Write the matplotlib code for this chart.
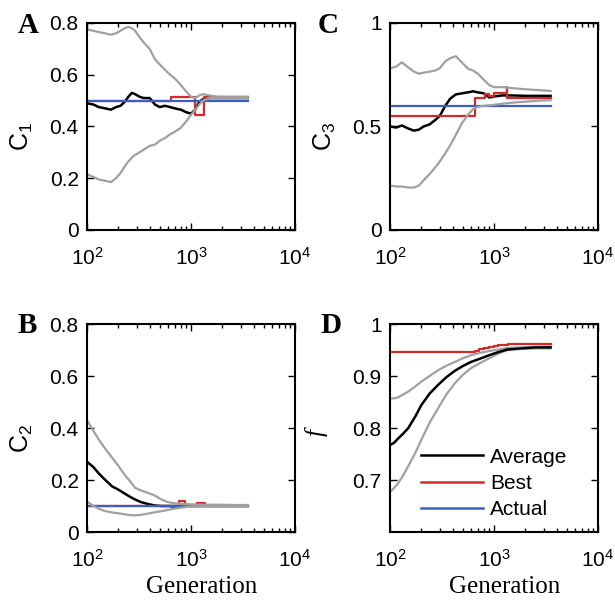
"""Four panels: parameter estimates (C1, C2, C3) and fitness f vs generation."""

import matplotlib
matplotlib.use("Agg")
import matplotlib.pyplot as plt
import numpy as np

plt.rcParams["font.family"] = ["Liberation Sans", "DejaVu Sans"]
plt.rcParams["mathtext.fontset"] = "custom"
plt.rcParams["mathtext.rm"] = "Liberation Sans"
plt.rcParams["mathtext.it"] = "Liberation Sans:italic"

GRAY = "#a0a0a0"
BLACK = "#000000"
RED = "#d02a2a"
BLUE = "#3a5ec4"

# --- panel A: C1 ---
gen_a = [100, 115, 130, 150, 170, 190, 210, 230, 250, 270, 290, 320, 350, 400, 450,
         500, 560, 630, 700, 800, 900, 1000, 1100, 1200, 1300, 1500, 1800, 2200, 2800, 3500]
a_upper = [0.775, 0.77, 0.765, 0.76, 0.755, 0.76, 0.77, 0.78, 0.785, 0.78, 0.77, 0.745, 0.725, 0.70, 0.66,
           0.64, 0.62, 0.60, 0.585, 0.56, 0.535, 0.515, 0.51, 0.52, 0.525, 0.52, 0.515, 0.515, 0.515, 0.515]
a_lower = [0.215, 0.205, 0.195, 0.19, 0.185, 0.20, 0.22, 0.245, 0.265, 0.28, 0.29, 0.30, 0.31, 0.325, 0.33,
           0.345, 0.355, 0.37, 0.38, 0.395, 0.42, 0.445, 0.465, 0.485, 0.50, 0.51, 0.51, 0.51, 0.51, 0.51]
a_avg = [0.49, 0.485, 0.475, 0.47, 0.465, 0.475, 0.48, 0.495, 0.515, 0.53, 0.525, 0.515, 0.51, 0.51, 0.485,
         0.475, 0.48, 0.475, 0.47, 0.465, 0.455, 0.45, 0.465, 0.495, 0.505, 0.51, 0.51, 0.51, 0.51, 0.51]
a_best_gen = [100, 640, 1100, 1330, 3500]
a_best = [0.50, 0.515, 0.445, 0.513, 0.513]
a_actual = 0.50

# --- panel B: C2 ---
gen_b = [100, 115, 130, 150, 175, 200, 230, 260, 290, 330, 390, 450, 520, 600, 700,
         850, 1000, 1300, 1800, 2500, 3500]
b_upper = [0.43, 0.39, 0.355, 0.32, 0.285, 0.255, 0.22, 0.195, 0.17, 0.16, 0.15, 0.14, 0.125, 0.115, 0.11,
           0.108, 0.106, 0.105, 0.105, 0.104, 0.104]
b_lower = [0.117, 0.10, 0.09, 0.08, 0.075, 0.072, 0.068, 0.065, 0.064, 0.066, 0.071, 0.076, 0.08, 0.085, 0.09,
           0.095, 0.098, 0.10, 0.10, 0.10, 0.10]
b_avg = [0.27, 0.25, 0.225, 0.20, 0.175, 0.163, 0.148, 0.135, 0.125, 0.115, 0.107, 0.102, 0.10, 0.10, 0.10,
         0.10, 0.10, 0.10, 0.10, 0.10, 0.10]
b_best_gen = [100, 640, 760, 880, 1150, 1350, 3500]
b_best = [0.10, 0.095, 0.12, 0.105, 0.11, 0.10, 0.10]
b_actual = 0.10

# --- panel C: C3 ---
gen_c = [100, 115, 130, 150, 170, 190, 210, 240, 270, 300, 340, 380, 430, 490, 560,
         630, 700, 800, 900, 1000, 1200, 1500, 2000, 2800, 3500]
c_upper = [0.78, 0.79, 0.81, 0.785, 0.765, 0.755, 0.76, 0.765, 0.77, 0.78, 0.815, 0.83, 0.84, 0.81, 0.78,
           0.77, 0.755, 0.725, 0.70, 0.69, 0.69, 0.685, 0.68, 0.675, 0.672]
c_lower = [0.215, 0.21, 0.21, 0.205, 0.205, 0.215, 0.24, 0.27, 0.30, 0.33, 0.37, 0.41, 0.46, 0.515, 0.555,
           0.585, 0.595, 0.60, 0.602, 0.605, 0.61, 0.615, 0.62, 0.625, 0.627]
c_avg = [0.50, 0.495, 0.505, 0.49, 0.48, 0.485, 0.50, 0.51, 0.53, 0.55, 0.60, 0.635, 0.655, 0.66, 0.665,
         0.67, 0.665, 0.66, 0.64, 0.645, 0.65, 0.65, 0.648, 0.648, 0.648]
c_best_gen = [100, 660, 820, 900, 1000, 1320, 1345, 3500]
c_best = [0.551, 0.64, 0.657, 0.645, 0.66, 0.69, 0.64, 0.64]
c_actual = 0.60

# --- panel D: fitness f ---
gen_d = [100, 110, 120, 135, 150, 175, 200, 240, 290, 350, 420, 500, 600, 750, 900,
         1100, 1350, 1800, 2500, 3500]
d_upper = [0.857, 0.857, 0.859, 0.865, 0.87, 0.88, 0.889, 0.90, 0.911, 0.92, 0.927, 0.934, 0.94, 0.945, 0.948,
           0.951, 0.954, 0.955, 0.956, 0.957]
d_lower = [0.677, 0.685, 0.694, 0.71, 0.727, 0.752, 0.777, 0.81, 0.838, 0.865, 0.886, 0.902, 0.915, 0.926, 0.934,
           0.943, 0.95, 0.952, 0.953, 0.953]
d_avg = [0.767, 0.772, 0.78, 0.79, 0.80, 0.822, 0.844, 0.866, 0.883, 0.898, 0.91, 0.919, 0.927, 0.934, 0.94,
         0.946, 0.951, 0.953, 0.955, 0.955]
d_best_gen = [100, 650, 720, 800, 900, 1000, 1100, 1350, 3500]
d_best = [0.946, 0.949, 0.952, 0.954, 0.956, 0.958, 0.959, 0.962, 0.962]

W, H = 615, 602
fig = plt.figure(figsize=(W / 100, H / 100), dpi=100)


def px_axes(left, top, right, bottom):
    return fig.add_axes([left / W, 1 - bottom / H, (right - left) / W, (bottom - top) / H])


def style(ax, ylim, yticks, yticklabels):
    ax.set_xscale("log")
    ax.set_xlim(100, 1e4)
    ax.set_ylim(*ylim)
    ax.set_yticks(yticks)
    ax.set_yticklabels(yticklabels)
    ax.set_xticks([1e2, 1e3, 1e4])
    ax.tick_params(which="both", direction="in", top=True, right=True, labelsize=15)
    ax.tick_params(which="major", length=5, width=1.0)
    ax.tick_params(which="minor", length=3, width=1.0)
    ax.tick_params(axis="x", pad=12)
    ax.tick_params(axis="y", pad=6)
    for s in ax.spines.values():
        s.set_linewidth(1.5)


def draw(ax, gen, upper, lower, avg, best_gen, best, actual=None):
    ax.plot(gen, avg, color=BLACK, lw=1.8)
    ax.plot(best_gen, best, color=RED, lw=1.6, drawstyle="steps-post")
    if actual is not None:
        ax.plot([gen[0], gen[-1]], [actual, actual], color=BLUE, lw=1.6)
    ax.plot(gen, upper, color=GRAY, lw=1.6)
    ax.plot(gen, lower, color=GRAY, lw=1.6)


def c_label(ax, text):
    ax.set_ylabel(text, fontsize=18)
    ax.yaxis.set_label_coords(-0.25, 0.45)


ax_a = px_axes(87, 23, 295, 230)
draw(ax_a, gen_a, a_upper, a_lower, a_avg, a_best_gen, a_best, a_actual)
style(ax_a, (0, 0.8), [0, 0.2, 0.4, 0.6, 0.8], ["0", "0.2", "0.4", "0.6", "0.8"])
c_label(ax_a, r"$\mathregular{C_1}$")

ax_c = px_axes(390, 23, 598, 230)
draw(ax_c, gen_c, c_upper, c_lower, c_avg, c_best_gen, c_best, c_actual)
style(ax_c, (0, 1), [0, 0.5, 1], ["0", "0.5", "1"])
c_label(ax_c, r"$\mathregular{C_3}$")

ax_b = px_axes(87, 324, 295, 532)
draw(ax_b, gen_b, b_upper, b_lower, b_avg, b_best_gen, b_best, b_actual)
style(ax_b, (0, 0.8), [0, 0.2, 0.4, 0.6, 0.8], ["0", "0.2", "0.4", "0.6", "0.8"])
c_label(ax_b, r"$\mathregular{C_2}$")

ax_d = px_axes(390, 324, 598, 532)
ax_d.plot(d_best_gen, d_best, color=RED, lw=1.6, drawstyle="steps-post")
ax_d.plot(gen_d, d_upper, color=GRAY, lw=1.6)
ax_d.plot(gen_d, d_lower, color=GRAY, lw=1.6)
ax_d.plot(gen_d, d_avg, color=BLACK, lw=1.8)
style(ax_d, (0.6, 1), [0.7, 0.8, 0.9, 1.0], ["0.7", "0.8", "0.9", "1"])
ax_d.set_ylabel("f", fontsize=18, family="Liberation Serif", style="italic")
ax_d.yaxis.set_label_coords(-0.30, 0.48)

handles = [plt.Line2D([], [], color=c, lw=1.8) for c in (BLACK, RED, BLUE)]
ax_d.legend(handles, ["Average", "Best", "Actual"], loc="upper left", bbox_to_anchor=(0.057, 0.495),
            frameon=False, fontsize=15, handlelength=3.0, handletextpad=0.35, labelspacing=0.35)

for ax in (ax_b, ax_d):
    ax.set_xlabel("Generation", fontsize=18, family="Liberation Serif")
    ax.xaxis.set_label_coords(0.55, -0.21)
    ax.xaxis.label.set_va("top")

for label, x, y in (("A", 18, 33), ("C", 318, 33), ("B", 18, 333), ("D", 320, 333)):
    fig.text(x / W, 1 - y / H, label, fontsize=21, family="Liberation Serif", weight="bold",
             va="baseline", ha="left")

fig.savefig("out.png", dpi=100)
